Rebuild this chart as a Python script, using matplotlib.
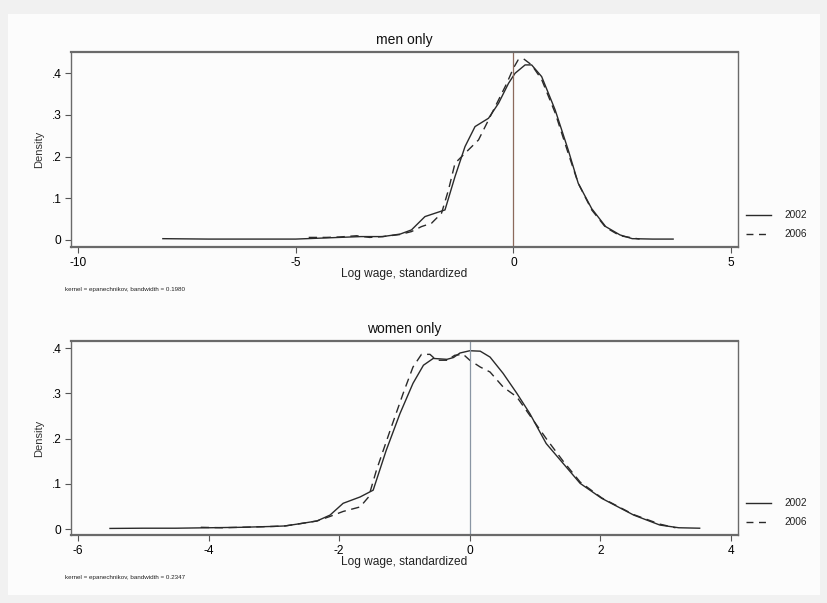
import matplotlib
matplotlib.use("Agg")
import matplotlib.pyplot as plt
from matplotlib.lines import Line2D
from matplotlib.patches import Rectangle
from matplotlib import font_manager

# ---- data ----
men_2002_x = [-8.05, -7, -6, -5, -4.5, -4, -3.5, -3.0, -2.6, -2.34, -2.03, -1.80, -1.57, -1.34, -1.11,
              -0.88, -0.57, -0.34, -0.11, 0.04, 0.27, 0.42, 0.65, 0.96, 1.26, 1.49, 1.8, 2.12, 2.45,
              2.73, 3.2, 3.67]
men_2002_y = [0.003, 0.002, 0.002, 0.002, 0.004, 0.006, 0.008, 0.008, 0.014, 0.024, 0.056, 0.064, 0.072,
              0.152, 0.224, 0.272, 0.292, 0.328, 0.376, 0.40, 0.42, 0.42, 0.392, 0.312, 0.216, 0.136,
              0.075, 0.032, 0.012, 0.003, 0.002, 0.002]
men_2006_x = [-4.7, -4.3, -4.0, -3.6, -3.3, -3.0, -2.6, -2.34, -2.11, -1.88, -1.65, -1.49, -1.34, -1.11,
              -0.80, -0.57, -0.34, -0.15, 0.0, 0.11, 0.23, 0.42, 0.65, 0.96, 1.26, 1.49, 1.8, 2.12,
              2.45, 2.9]
men_2006_y = [0.006, 0.006, 0.007, 0.010, 0.006, 0.008, 0.013, 0.02, 0.032, 0.04, 0.064, 0.12, 0.184,
              0.208, 0.24, 0.288, 0.336, 0.376, 0.412, 0.432, 0.435, 0.42, 0.385, 0.305, 0.208, 0.136,
              0.072, 0.030, 0.010, 0.002]
women_2002_x = [-5.51, -5.0, -4.5, -4.0, -3.5, -3.0, -2.83, -2.6, -2.34, -2.14, -1.94, -1.68, -1.48,
                -1.28, -1.07, -0.87, -0.71, -0.56, -0.35, -0.25, -0.15, 0.0, 0.16, 0.31, 0.51, 0.72,
                0.92, 1.17, 1.43, 1.69, 2.02, 2.51, 2.91, 3.2, 3.52]
women_2002_y = [0.0015, 0.002, 0.002, 0.003, 0.004, 0.006, 0.007, 0.012, 0.018, 0.031, 0.057, 0.071,
                0.086, 0.174, 0.255, 0.322, 0.362, 0.377, 0.375, 0.379, 0.389, 0.394, 0.393, 0.380,
                0.344, 0.30, 0.255, 0.189, 0.145, 0.101, 0.068, 0.031, 0.009, 0.003, 0.002]
women_2006_x = [-4.12, -3.8, -3.5, -3.0, -2.83, -2.6, -2.34, -2.14, -1.94, -1.68, -1.55, -1.43, -1.22,
                -1.02, -0.87, -0.74, -0.61, -0.51, -0.35, -0.23, -0.10, 0.0, 0.16, 0.31, 0.51, 0.72,
                0.92, 1.17, 1.43, 1.69, 2.02, 2.51, 2.91, 3.15]
women_2006_y = [0.004, 0.003, 0.004, 0.006, 0.007, 0.012, 0.018, 0.028, 0.039, 0.049, 0.071, 0.130,
                0.218, 0.30, 0.358, 0.386, 0.386, 0.373, 0.373, 0.384, 0.386, 0.373, 0.358, 0.347,
                0.314, 0.292, 0.251, 0.200, 0.150, 0.104, 0.069, 0.032, 0.011, 0.003]

years = ["2002", "2006"]
titles = ["men only", "women only"]
notes = ["kernel = epanechnikov, bandwidth = 0.1980", "kernel = epanechnikov, bandwidth = 0.2347"]
men_xticks = [-10, -5, 0, 5]
women_xticks = [-6, -4, -2, 0, 2, 4]
yticks = [0, 0.1, 0.2, 0.3, 0.4]
ytick_labels = ["0", ".1", ".2", ".3", ".4"]

W, H = 828, 603
fig = plt.figure(figsize=(W / 100, H / 100), dpi=100)
fig.patch.set_facecolor("#f1f1f1")
bg = Rectangle((8 / W, 8 / H), (W - 16) / W, (H - 22) / H,
               transform=fig.transFigure, facecolor="#fcfcfc", edgecolor="none", zorder=-10)
fig.add_artist(bg)

avail = {f.name for f in font_manager.fontManager.ttflist}
NARROW = ["Liberation Sans Narrow", "DejaVu Sans"] if "Liberation Sans Narrow" in avail \
    else ["Liberation Sans", "DejaVu Sans"]
nscale = 1.0 if NARROW[0] == "Liberation Sans Narrow" else 0.86
SANS = ["Liberation Sans", "DejaVu Sans"]
lc = "#2a2a2a"
dash = (0, (6, 4))

panels = [
    dict(rect=(71, 52, 738, 247), xlim=(-10.16, 5.16), ylim=(-0.017, 0.451),
         x1=men_2002_x, y1=men_2002_y, x2=men_2006_x, y2=men_2006_y,
         xticks=men_xticks, vcol="#8c6a5c", leg=(215, 234), title_y=40, xl_y=274, note_y=290),
    dict(rect=(71, 341, 738, 535), xlim=(-6.107, 4.107), ylim=(-0.013, 0.4155),
         x1=women_2002_x, y1=women_2002_y, x2=women_2006_x, y2=women_2006_y,
         xticks=women_xticks, vcol="#8a96a4", leg=(503, 522), title_y=329, xl_y=562, note_y=578),
]

for i, p in enumerate(panels):
    l, t, r, b = p["rect"]
    ax = fig.add_axes([l / W, 1 - b / H, (r - l) / W, (b - t) / H])
    ax.set_facecolor("none")
    ax.plot(p["x1"], p["y1"], color=lc, lw=1.0)
    ax.plot(p["x2"], p["y2"], color=lc, lw=1.0, linestyle=dash)
    ax.axvline(0, color=p["vcol"], lw=0.9)
    ax.set_xlim(*p["xlim"])
    ax.set_ylim(*p["ylim"])
    ax.set_xticks(p["xticks"])
    ax.set_xticklabels([str(v) for v in p["xticks"]], fontfamily=NARROW, fontsize=10 * nscale)
    ax.set_yticks(yticks)
    ax.set_yticklabels(ytick_labels, fontfamily=NARROW, fontsize=10 * nscale)
    ax.tick_params(direction="out", length=4, width=0.8, color="#555555", pad=3)
    for s in ax.spines.values():
        s.set_color("#6a6a6a")
        s.set_linewidth(1.0)
    ax.spines["top"].set_linewidth(1.6)
    ax.spines["bottom"].set_linewidth(1.6)
    ax.set_ylabel("Density", fontfamily=SANS, fontsize=8, color="#333333", labelpad=5)
    fig.text((l + r) / 2 / W, 1 - p["title_y"] / H, titles[i], ha="center", va="center",
             fontfamily=SANS, fontsize=10, color="#111111")
    fig.text((l + r) / 2 / W, 1 - p["xl_y"] / H, "Log wage, standardized", ha="center",
             va="center", fontfamily=NARROW, fontsize=10 * nscale, color="#222222")
    fig.text(65 / W, 1 - p["note_y"] / H, notes[i], ha="left", va="center",
             fontfamily=SANS, fontsize=4.5, color="#222222")
    for k, yy in enumerate(p["leg"]):
        ls = "-" if k == 0 else (0, (5, 4))
        fig.add_artist(Line2D([746 / W, 771 / W], [1 - yy / H, 1 - yy / H],
                              transform=fig.transFigure, color=lc, lw=1.0, linestyle=ls))
        fig.text(784 / W, 1 - yy / H, years[k], ha="left", va="center",
                 fontfamily=NARROW, fontsize=8.5 * nscale, color="#222222")

fig.savefig("out.png", dpi=100, facecolor=fig.get_facecolor())
